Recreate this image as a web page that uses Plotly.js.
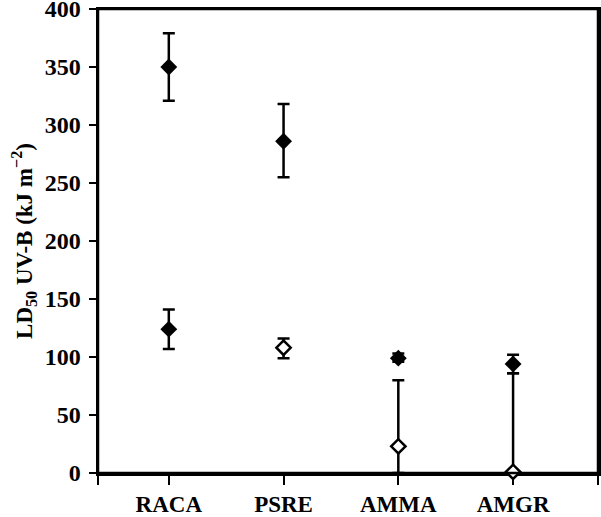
<!DOCTYPE html>
<html>
<head>
<meta charset="utf-8">
<script src="https://cdn.plot.ly/plotly-3.0.1.min.js"></script>
<style>
  html, body { margin: 0; padding: 0; background: #fff; }
  #myDiv { width: 601px; height: 517px; }
</style>
</head>
<body>
<div id="myDiv"></div>
<script>
// species codes and where they sit on the x axis
var species = ['RACA', 'PSRE', 'AMMA', 'AMGR'];
var speciesPos = [1, 2, 3, 4];
var xEdges = [0.383, 4.74];

// filled diamonds (upper group)
var filledHiX = ['RACA', 'PSRE'];
var filledHiY = [350, 286];
var filledHiUp = [29, 32];
var filledHiDown = [29, 31];

// filled diamonds (lower group)
var filledLoX = ['RACA', 'AMMA', 'AMGR'];
var filledLoY = [124, 99, 94];
var filledLoUp = [17, 4, 8];
var filledLoDown = [17, 3, 8];

// open diamonds
var openX = ['PSRE', 'AMMA', 'AMGR'];
var openY = [108, 23, 1];
var openUp = [8, 57, 85];
var openDown = [9, 23, 1];

var yTicks = [0, 50, 100, 150, 200, 250, 300, 350, 400];

function posOf(names) {
  var out = [];
  for (var i = 0; i < names.length; i++) {
    out.push(speciesPos[species.indexOf(names[i])]);
  }
  return out;
}

var serif = 'Liberation Serif';

function errs(up, down) {
  return {
    type: 'data', symmetric: false, array: up, arrayminus: down,
    color: '#000', thickness: 2.5, width: 6
  };
}

var data = [
  {
    x: posOf(filledHiX), y: filledHiY, type: 'scatter', mode: 'markers',
    marker: { symbol: 'diamond', size: 13, color: '#000', line: { width: 0 } },
    error_y: errs(filledHiUp, filledHiDown),
    cliponaxis: false, showlegend: false
  },
  {
    x: posOf(filledLoX), y: filledLoY, type: 'scatter', mode: 'markers',
    marker: { symbol: 'diamond', size: 13, color: '#000', line: { width: 0 } },
    error_y: errs(filledLoUp, filledLoDown),
    cliponaxis: false, showlegend: false
  },
  {
    x: posOf(openX), y: openY, type: 'scatter', mode: 'markers',
    marker: { symbol: 'diamond', size: 11, color: '#fff', line: { width: 2.5, color: '#000' } },
    error_y: errs(openUp, openDown),
    cliponaxis: false, showlegend: false
  }
];

var xTickVals = [xEdges[0]].concat(speciesPos, [xEdges[1]]);
var xTickText = [''].concat(species, ['']);

var layout = {
  width: 601,
  height: 517,
  margin: { l: 98, r: 3, t: 9, b: 44 },
  paper_bgcolor: '#fff',
  plot_bgcolor: 'rgba(0,0,0,0)',
  font: { family: serif, color: '#000', size: 21 },
  xaxis: {
    range: xEdges,
    tickmode: 'array',
    tickvals: xTickVals,
    ticktext: xTickText,
    ticks: 'outside',
    ticklen: 9,
    tickwidth: 2,
    tickcolor: '#000',
    ticklabelstandoff: 0,
    ticklabeloverflow: 'allow',
    showline: true,
    linewidth: 2.5,
    linecolor: '#000',
    mirror: true,
    showgrid: false,
    zeroline: false,
    layer: 'below traces',
    tickfont: { family: serif, size: 23, weight: 'bold' }
  },
  yaxis: {
    range: [0, 400],
    tickmode: 'array',
    tickvals: yTicks,
    ticks: 'outside',
    ticklen: 7,
    tickwidth: 2,
    tickcolor: '#000',
    ticklabelstandoff: 3,
    ticklabeloverflow: 'allow',
    showline: true,
    linewidth: 2.5,
    linecolor: '#000',
    mirror: true,
    showgrid: false,
    zeroline: false,
    layer: 'below traces',
    tickfont: { family: serif, size: 24, weight: 'bold' },
    title: {
      text: 'LD<sub>50</sub> UV-B (kJ m<sup>\u22122</sup>)',
      font: { family: serif, size: 23, weight: 'bold' },
      standoff: 6
    }
  },
  // frame round the plot area
  shapes: [
    { type: 'rect', xref: 'paper', yref: 'paper', x0: 0, x1: 1, y0: 0, y1: 1,
      line: { color: '#000', width: 2.5 }, layer: 'above' }
  ]
};

Plotly.newPlot('myDiv', data, layout, { displayModeBar: false, staticPlot: true });
</script>
</body>
</html>
